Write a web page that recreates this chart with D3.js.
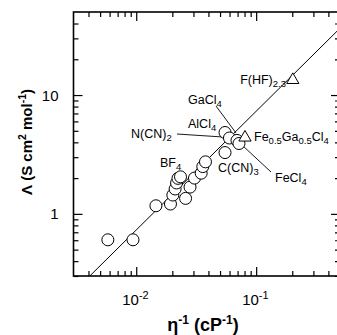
<!DOCTYPE html>
<html>
<head>
<meta charset="utf-8">
<script src="https://cdn.jsdelivr.net/npm/d3@7"></script>
<style>
  body { margin: 0; background: #fff; }
  text { font-family: Arial, "Liberation Sans", Helvetica, sans-serif; fill: #000; }
</style>
</head>
<body>
<script>
// circles (open): inverse viscosity (cP^-1) vs molar conductivity (S cm2 mol-1)
const circleX = [0.0058, 0.0094, 0.0146, 0.0193, 0.0202, 0.0211, 0.0217, 0.0223, 0.0234,
                 0.0258, 0.0281, 0.0306, 0.0348, 0.0359, 0.0378, 0.0550, 0.0550, 0.0599,
                 0.0692, 0.0719];
const circleY = [0.605, 0.605, 1.17, 1.21, 1.44, 1.62, 1.82, 1.99, 2.05,
                 1.35, 1.68, 2.00, 2.20, 2.50, 2.74, 3.28, 4.84, 4.35,
                 4.15, 3.91];
// triangles: Fe0.5Ga0.5Cl4, F(HF)2.3
const triX = [0.0807, 0.202];
const triY = [4.39, 13.4];
// fitted line end points
const lineX = [0.0041, 0.5];
const lineY = [0.3, 36.5];

const xMajor = [0.01, 0.1];
const yMajor = [1, 10];
const xLabels = ["-2", "-1"];
const yLabels = ["1", "10"];

const W = 337, H = 335;
const margin = { top: 12, left: 73.5, bottom: 59, right: -3 };

const svg = d3.select("body").append("svg")
    .attr("width", W)
    .attr("height", H);

const x = d3.scaleLog()
    .domain([0.003, 0.5])
    .range([margin.left, W - margin.right]);
const y = d3.scaleLog()
    .domain([0.3, 50])
    .range([H - margin.bottom, margin.top]);

function minors(scale) {
    const [a, b] = scale.domain();
    const out = [];
    for (let e = Math.floor(Math.log10(a)); e <= Math.ceil(Math.log10(b)); e++) {
        for (let k = 2; k <= 9; k++) {
            const v = k * Math.pow(10, e);
            if (v > a && v < b) out.push(v);
        }
    }
    return out;
}

const x0 = x.range()[0], x1 = x.range()[1];
const y0 = y.range()[0], y1 = y.range()[1];

svg.append("defs").append("clipPath").attr("id", "clip")
    .append("rect")
    .attr("x", x0).attr("y", y1)
    .attr("width", x1 - x0).attr("height", y0 - y1);

// axes: inward ticks on all four sides
function tickAxis(axis, transform, values, size) {
    const g = svg.append("g")
        .attr("transform", transform)
        .call(axis.tickValues(values).tickSize(size).tickSizeOuter(0).tickFormat(""));
    g.select(".domain").remove();
    g.selectAll("line").attr("stroke", "#000").attr("stroke-width", 1.2);
}
tickAxis(d3.axisBottom(x), `translate(0,${y0})`, xMajor, -9);
tickAxis(d3.axisBottom(x), `translate(0,${y0})`, minors(x), -5);
tickAxis(d3.axisTop(x), `translate(0,${y1})`, xMajor, -9);
tickAxis(d3.axisTop(x), `translate(0,${y1})`, minors(x), -5);
tickAxis(d3.axisLeft(y), `translate(${x0},0)`, yMajor, -9);
tickAxis(d3.axisLeft(y), `translate(${x0},0)`, minors(y), -5);
tickAxis(d3.axisRight(y), `translate(${x1},0)`, yMajor, -9);
tickAxis(d3.axisRight(y), `translate(${x1},0)`, minors(y), -5);

svg.append("rect")
    .attr("x", x0).attr("y", y1)
    .attr("width", x1 - x0).attr("height", y0 - y1)
    .attr("fill", "none")
    .attr("stroke", "#000")
    .attr("stroke-width", 1.6);

// tick labels
svg.selectAll(".ylab")
    .data(yMajor)
    .enter().append("text")
    .attr("x", x0 - 15)
    .attr("y", d => y(d) + 5.5)
    .attr("text-anchor", "end")
    .style("font-size", "15px")
    .text((d, i) => yLabels[i]);

xMajor.forEach((v, i) => {
    const t = svg.append("text")
        .attr("x", x(v) - 14)
        .attr("y", y0 + 29)
        .style("font-size", "15px");
    t.append("tspan").text("10");
    t.append("tspan").attr("dy", -6).style("font-size", "11px").text(xLabels[i]);
});

// axis titles
const xt = svg.append("text")
    .attr("x", 203)
    .attr("y", 331)
    .attr("text-anchor", "middle")
    .style("font-size", "18px")
    .style("font-weight", "bold");
xt.append("tspan").text("η");
xt.append("tspan").attr("dy", -7).style("font-size", "12px").text("-1");
xt.append("tspan").attr("dy", 7).text(" (cP");
xt.append("tspan").attr("dy", -7).style("font-size", "12px").text("-1");
xt.append("tspan").attr("dy", 7).text(")");

const yt = svg.append("text")
    .attr("transform", "translate(32,142) rotate(-90)")
    .attr("text-anchor", "middle")
    .style("font-size", "15px")
    .style("font-weight", "bold");
yt.append("tspan").text("Λ (S cm");
yt.append("tspan").attr("dy", -6).style("font-size", "10.5px").text("2");
yt.append("tspan").attr("dy", 6).text(" mol");
yt.append("tspan").attr("dy", -6).style("font-size", "10.5px").text("-1");
yt.append("tspan").attr("dy", 6).text(")");

// fitted line
svg.append("path")
    .datum(lineX.map((d, i) => [d, lineY[i]]))
    .attr("clip-path", "url(#clip)")
    .attr("fill", "none")
    .attr("stroke", "#000")
    .attr("stroke-width", 1)
    .attr("d", d3.line().x(d => x(d[0])).y(d => y(d[1])));

// leader lines
const leaders = [
    [216, 106, 236, 133],
    [177, 134, 223, 137],
    [242, 145, 271, 172]
];
svg.selectAll(".leader")
    .data(leaders)
    .enter().append("line")
    .attr("x1", d => d[0]).attr("y1", d => d[1])
    .attr("x2", d => d[2]).attr("y2", d => d[3])
    .attr("stroke", "#000")
    .attr("stroke-width", 0.9);

// markers
svg.selectAll(".dot")
    .data(circleX.map((d, i) => [d, circleY[i]]))
    .enter().append("circle")
    .attr("cx", d => x(d[0]))
    .attr("cy", d => y(d[1]))
    .attr("r", 6)
    .attr("fill", "#fff")
    .attr("stroke", "#000")
    .attr("stroke-width", 1);

const tri = d3.symbol().type(d3.symbolTriangle).size(65);
svg.selectAll(".tri")
    .data(triX.map((d, i) => [d, triY[i]]))
    .enter().append("path")
    .attr("transform", d => `translate(${x(d[0])},${y(d[1])})`)
    .attr("d", tri)
    .attr("fill", "#fff")
    .attr("stroke", "#000")
    .attr("stroke-width", 1);

// annotations: [text parts, x, y, anchor]; "_" marks subscript
const notes = [
    [["F(HF)", "_2.3"], 286, 84, "end"],
    [["GaCl", "_4"], 188, 104, "start"],
    [["AlCl", "_4"], 188, 128, "start"],
    [["N(CN)", "_2"], 131, 138, "start"],
    [["Fe", "_0.5", "Ga", "_0.5", "Cl", "_4"], 254, 141, "start"],
    [["C(CN)", "_3"], 218, 172, "start"],
    [["FeCl", "_4"], 275, 182, "start"],
    [["BF", "_4"], 160, 167, "start"]
];
notes.forEach(n => {
    const t = svg.append("text")
        .attr("x", n[1]).attr("y", n[2])
        .attr("text-anchor", n[3])
        .style("font-size", "12.5px");
    let down = false;
    n[0].forEach(p => {
        if (p[0] === "_") {
            t.append("tspan").attr("dy", down ? 0 : 3).style("font-size", "9.5px").text(p.slice(1));
            down = true;
        } else {
            t.append("tspan").attr("dy", down ? -3 : 0).text(p);
            down = false;
        }
    });
});
</script>
</body>
</html>
